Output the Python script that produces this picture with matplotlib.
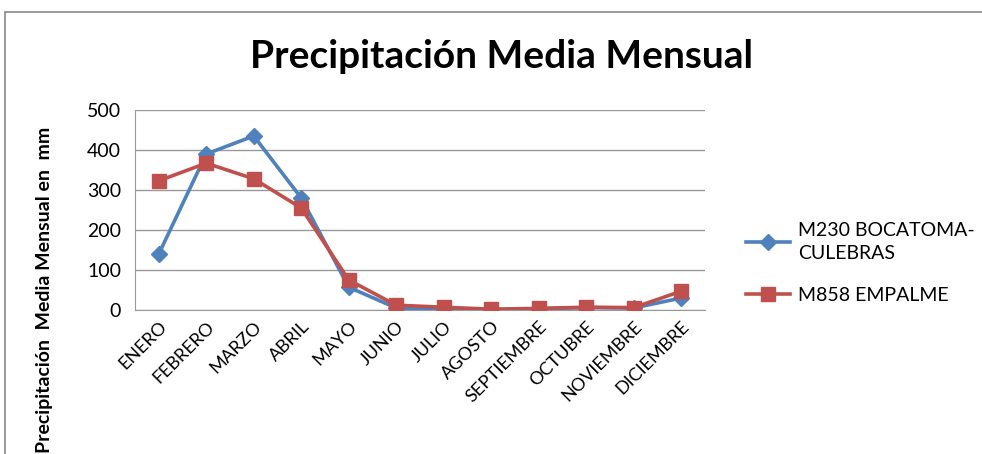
import matplotlib.pyplot as plt
from matplotlib.patches import Rectangle

months = ['ENERO', 'FEBRERO', 'MARZO', 'ABRIL', 'MAYO', 'JUNIO', 'JULIO',
          'AGOSTO', 'SEPTIEMBRE', 'OCTUBRE', 'NOVIEMBRE', 'DICIEMBRE']
m230 = [140, 390, 435, 280, 57, 5, 2, 1, 3, 6, 5, 30]
m858 = [323, 367, 328, 255, 75, 12, 7, 2, 4, 7, 6, 47]
yticks = [0, 100, 200, 300, 400, 500]

plt.rcParams['font.family'] = ['Lato', 'DejaVu Sans']

fig = plt.figure(figsize=(9.82, 4.54), dpi=100)
ax = fig.add_axes([135 / 982, 1 - 310 / 454, 570 / 982, 200 / 454])

x = range(len(months))
ax.plot(x, m230, color='#4F81BD', lw=2.6, marker='D', ms=8.5,
        label='M230 BOCATOMA-\nCULEBRAS', zorder=3)
ax.plot(x, m858, color='#C0504D', lw=2.6, marker='s', ms=10.5,
        label='M858 EMPALME', zorder=4)

ax.set_xlim(-0.5, len(months) - 0.5)
ax.set_ylim(0, 500)
ax.set_yticks(yticks)
ax.set_xticks(list(x))
ax.set_xticklabels(months, rotation=45, ha='right', rotation_mode='anchor', fontsize=13)
ax.tick_params(axis='y', labelsize=14, length=0, pad=10)
ax.tick_params(axis='x', length=0, pad=6)
ax.grid(axis='y', color='#999999', lw=1)
ax.set_axisbelow(True)
for s in ['top', 'right']:
    ax.spines[s].set_visible(False)
for s in ['left', 'bottom']:
    ax.spines[s].set_color('#999999')

fig.text(45 / 982, 1 - 290 / 454, 'Precipitación  Media Mensual en  mm',
         rotation=90, ha='center', va='center', fontsize=14, fontweight='bold')

fig.text(0.511, 1 - 57 / 454, 'Precipitación Media Mensual', ha='center', va='center',
         fontsize=28, fontweight='bold')

leg = fig.legend(loc='center left', bbox_to_anchor=(728 / 982, 1 - 263 / 454),
                 frameon=False, fontsize=14, handlelength=2.3, handletextpad=0.4,
                 labelspacing=1.3)
for t in leg.get_texts():
    t.set_linespacing(1.45)

fig.patches.append(Rectangle((5 / 982, -0.1), 1.1, 1.1 - 12 / 454,
                             transform=fig.transFigure, fill=False,
                             edgecolor='#888888', lw=1.2))

fig.savefig('out.png', dpi=100)
